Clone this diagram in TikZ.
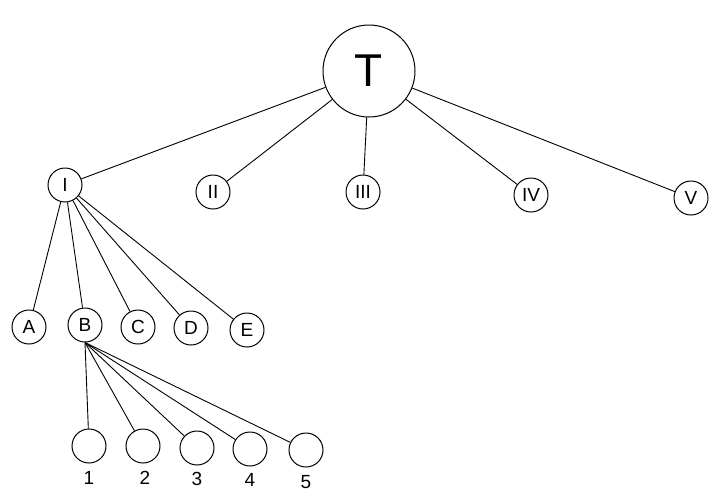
\documentclass[tikz,border=0pt]{standalone}
\usepackage{fontspec}
\setmainfont{Liberation Sans}
\usetikzlibrary{positioning}

\begin{document}
\begin{tikzpicture}[
  x=1pt, y=-1pt,
  every node/.style={font=\fontsize{19}{21}\selectfont},
  root/.style={circle, draw, line width=1pt, minimum size=92pt, inner sep=0pt, font=\fontsize{46}{48}\selectfont},
  vert/.style={circle, draw, line width=1pt, minimum size=34pt, inner sep=0pt},
  leaf/.style={circle, draw, line width=1pt, minimum size=34pt, inner sep=0pt},
  edge/.style={line width=0.9pt}
]
\useasboundingbox (0,0) rectangle (721,499);

% Root
\node[root] (T) at (369,71) {T};

% First level
\node[vert] (I) at (65,185) {I};
\node[vert] (II) at (213,192) {II};
\node[vert] (III) at (363,192) {III};
\node[vert] (IV) at (531,195) {IV};
\node[vert] (V) at (691,198) {V};

% Second level
\node[vert] (A) at (29,327) {A};
\node[vert] (B) at (85,325) {B};
\node[vert] (C) at (138,327) {C};
\node[vert] (D) at (191,328) {D};
\node[vert] (E) at (247,330) {E};

% Third level
\node[leaf] (c1) at (89,446) {};
\node[leaf] (c2) at (143,446) {};
\node[leaf] (c3) at (197,448) {};
\node[leaf] (c4) at (250,449) {};
\node[leaf] (c5) at (306,450) {};
\node (lbl1) at (89,478) {1};
\node (lbl2) at (145,478) {2};
\node (lbl3) at (197,479) {3};
\node (lbl4) at (250,480) {4};
\node (lbl5) at (306,482) {5};

% Connections
\foreach \n in {I,II,III,IV,V}
  \draw[edge] (T) -- (\n);
\foreach \n in {A,B,C,D,E}
  \draw[edge] (I) -- (\n);
\foreach \n in {c1,c2,c3,c4,c5}
  \draw[edge] (B.south) -- (\n);

\end{tikzpicture}
\end{document}
